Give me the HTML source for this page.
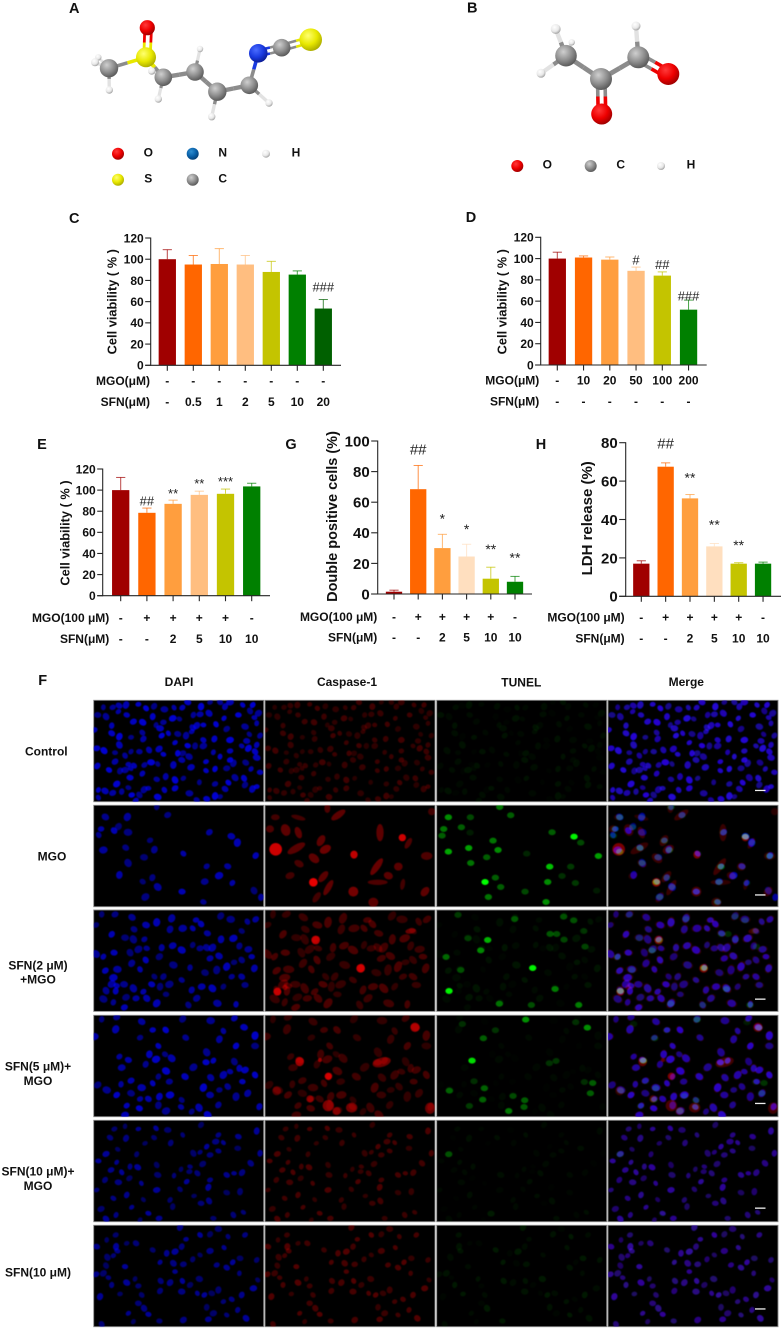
<!DOCTYPE html>
<html lang="en">
<head>
<meta charset="utf-8">
<title>Sulforaphane and MGO figure</title>
<style>
html,body{margin:0;padding:0;background:#fff;}
svg{display:block;}
text{font-family:"Liberation Sans","Noto Sans CJK SC",sans-serif;font-weight:bold;fill:#111;}
.letter{font-size:14.5px;text-anchor:middle;}
.atom-label{font-size:12px;text-anchor:middle;}
.head{font-size:12px;text-anchor:middle;}
.row-label{font-size:12px;text-anchor:middle;}
.ytitle{font-size:12.8px;text-anchor:middle;}
</style>
</head>
<body>
<svg id="fig" xmlns="http://www.w3.org/2000/svg" width="781" height="1328" viewBox="0 0 781 1328">
<defs>
<radialGradient id="g-gray" cx=".38" cy=".32" r=".72"><stop offset="0" stop-color="#cfcfcf"/><stop offset=".55" stop-color="#8f8f8f"/><stop offset="1" stop-color="#555"/></radialGradient>
<radialGradient id="g-red" cx=".38" cy=".32" r=".72"><stop offset="0" stop-color="#ff3a3a"/><stop offset=".55" stop-color="#ee0000"/><stop offset="1" stop-color="#980000"/></radialGradient>
<radialGradient id="g-yellow" cx=".38" cy=".32" r=".72"><stop offset="0" stop-color="#ffff70"/><stop offset=".55" stop-color="#e8e800"/><stop offset="1" stop-color="#a8a800"/></radialGradient>
<radialGradient id="g-blue" cx=".38" cy=".32" r=".72"><stop offset="0" stop-color="#4a6cff"/><stop offset=".55" stop-color="#1a3ae0"/><stop offset="1" stop-color="#0a1a90"/></radialGradient>
<radialGradient id="g-nblue" cx=".38" cy=".32" r=".72"><stop offset="0" stop-color="#2f8ed0"/><stop offset=".55" stop-color="#0a62aa"/><stop offset="1" stop-color="#053c70"/></radialGradient>
<radialGradient id="g-white" cx=".38" cy=".32" r=".72"><stop offset="0" stop-color="#fff"/><stop offset=".6" stop-color="#e8e8e8"/><stop offset="1" stop-color="#9a9a9a"/></radialGradient>
<clipPath id="cell-clip"><rect x="0" y="0" width="170" height="101.4"/></clipPath>
<filter id="soft" x="-5%" y="-5%" width="110%" height="110%"><feGaussianBlur stdDeviation="0.6"/></filter>
</defs>

<g id="mol-a"></g>
<g id="mol-b"></g>
<g id="charts"></g>
<g id="micro"></g>

<text class="letter" x="74.3" y="13">A</text>
<text class="letter" x="472.3" y="12.5">B</text>
<text class="letter" x="74.3" y="223">C</text>
<text class="letter" x="471" y="222">D</text>
<text class="letter" x="42" y="449">E</text>
<text class="letter" x="291" y="449">G</text>
<text class="letter" x="541" y="449">H</text>
<text class="letter" x="42.7" y="685">F</text>

<text class="atom-label" x="148.3" y="156.3">O</text>
<text class="atom-label" x="222.7" y="156.3">N</text>
<text class="atom-label" x="296" y="156.3">H</text>
<text class="atom-label" x="148.3" y="182.6">S</text>
<text class="atom-label" x="222.7" y="182.6">C</text>
<text class="atom-label" x="547.3" y="168.3">O</text>
<text class="atom-label" x="620.7" y="168.3">C</text>
<text class="atom-label" x="691" y="168.3">H</text>

<text class="ytitle" transform="translate(116.3 301.7) rotate(-90)">Cell viability ( % )</text>
<text class="ytitle" transform="translate(506.3 301.7) rotate(-90)">Cell viability ( % )</text>
<text class="ytitle" transform="translate(69.6 533) rotate(-90)">Cell viability ( % )</text>
<text class="ytitle" style="font-size:14.5px" transform="translate(337 516.5) rotate(-90)">Double positive cells (%)</text>
<text class="ytitle" style="font-size:15px" transform="translate(592 518.3) rotate(-90)">LDH release (%)</text>

<text class="head" x="179" y="686">DAPI</text>
<text class="head" x="347" y="686">Caspase-1</text>
<text class="head" x="521.3" y="686.5">TUNEL</text>
<text class="head" x="686.3" y="686">Merge</text>

<text class="row-label" x="46.3" y="755.3">Control</text>
<text class="row-label" x="52" y="860.6">MGO</text>
<text class="row-label" x="38" y="969.3">SFN(2 μM)</text>
<text class="row-label" x="38" y="983.6">+MGO</text>
<text class="row-label" x="38" y="1070.6">SFN(5 μM)+</text>
<text class="row-label" x="38" y="1085">MGO</text>
<text class="row-label" x="38" y="1175.6">SFN(10 μM)+</text>
<text class="row-label" x="38" y="1190">MGO</text>
<text class="row-label" x="38" y="1276.6">SFN(10 μM)</text>
</svg>

<script>
/* ---------- chart data ---------- */
var viabilityTicks = [0,20,40,60,80,100,120];
var doubleTicks = [0,20,40,60,80,100];
var ldhTicks = [0,20,40,60,80];

var cValues = [100,95,95.5,95,88,85.5,53.5];
var cErrTops = [109,103.5,110,103.5,98,89,62];
var cMgo = ['-','-','-','-','-','-','-'];
var cSfn = ['-','0.5','1','2','5','10','20'];
var cSig = ['','','','','','','###'];
var cSigLevels = [0,0,0,0,0,0,74];

var dValues = [100,101,99,88.5,84,52];
var dErrTops = [106,102.5,101.5,92,87.5,61];
var dMgo = ['-','10','20','50','100','200'];
var dSfn = ['-','-','-','-','-','-'];
var dSig = ['','','','#','##','###'];
var dSigLevels = [0,0,0,98.7,94.6,64.8];

var eValues = [100,78.5,87,95.5,96.5,103.5];
var eErrTops = [112,83,90.5,99,101,106.5];
var eMgo = ['-','+','+','+','+','-'];
var eSfn = ['-','-','2','5','10','10'];
var eSig = ['','##','**','**','***',''];
var eSigLevels = [0,89.7,99.8,109.3,111,0];

var gValues = [1.5,68.5,30,24.5,10,8];
var gErrTops = [2.5,84,39,32.5,17.5,11.5];
var gMgo = ['-','+','+','+','+','-'];
var gSfn = ['-','-','2','5','10','10'];
var gSig = ['','##','*','*','**','**'];
var gSigLevels = [0,94.6,51.4,44.4,31.4,25.9];

var hValues = [17,67.5,51,26,17,17];
var hErrTops = [18.5,69.5,53,27.5,17.5,17.8];
var hMgo = ['-','+','+','+','+','-'];
var hSfn = ['-','-','2','5','10','10'];
var hSig = ['','##','**','**','**',''];
var hSigLevels = [0,79.7,63.5,39,28.3,0];

var paletteWarm = ['#a00000','#ff6600','#ff9e3e','#ffbe80','#c4c400','#008000','#006000'];
var palettePale = ['#a00000','#ff6600','#ff9e3e','#ffdfbf','#c4c400','#008000'];

var SVGNS = 'http://www.w3.org/2000/svg';
function mk(tag, parent, attrs){
  var el = document.createElementNS(SVGNS, tag);
  for (var k in attrs) el.setAttribute(k, attrs[k]);
  parent.appendChild(el);
  return el;
}

function drawChart(id, c){
  var root = document.getElementById('charts');
  var g = mk('g', root, {});
  
  
  function yScale(v){ return c.y0 - v * (c.y0 - c.yTop) / c.max; }
  function xScale(i){ return c.x0 + i * c.step; }
  var ink = '#262626';

  c.values.forEach(function(v, i){
    var x = xScale(i), col = c.colors[i];
    var stem = mk('line', g, {x1:x, x2:x, y1:yScale(v), y2:yScale(c.errTops[i]), stroke:col, 'stroke-width':1, 'stroke-opacity':.72});
    
    
    var cap = mk('line', g, {x1:x-4.6, x2:x+4.6, y1:yScale(c.errTops[i]), y2:yScale(c.errTops[i]), stroke:col, 'stroke-width':1, 'stroke-opacity':.72});
    
    
    var bar = mk('rect', g, {x:x-c.barW/2, y:yScale(v), width:c.barW, height:c.y0-yScale(v), fill:col});
    
    

    var tick = mk('line', g, {x1:x, x2:x, y1:c.y0, y2:c.y0+5.5, stroke:ink, 'stroke-width':1.1});
    
    

    var m = mk('text', g, {x:x, y:c.labY1+4.3, 'text-anchor':'middle', 'font-size':12});
    m.textContent = c.mgo[i];
    
    
    var s = mk('text', g, {x:x, y:c.labY2+4.3, 'text-anchor':'middle', 'font-size':12});
    s.textContent = c.sfn[i];
    
    

    if (c.sig[i]) {
      var isHash = c.sig[i].charAt(0) === '#';
      var fs = isHash ? c.hashFont : c.starFont;
      var t = mk('text', g, {x:x, y:yScale(c.sigLevels[i]) + fs*(isHash ? .35 : .58), 'text-anchor':'middle', 'font-size':fs, style:'font-weight:normal;fill:#222'});
      t.textContent = c.sig[i];
      
      
    }
  });

  var yAxis = mk('line', g, {x1:c.axisX, x2:c.axisX, y1:c.yTop-.5, y2:c.y0+.5, stroke:ink, 'stroke-width':1.1});
  
  
  var xAxis = mk('line', g, {x1:c.axisX-c.tickLen, x2:c.axisEnd, y1:c.y0, y2:c.y0, stroke:ink, 'stroke-width':1.1});
  
  

  c.ticks.forEach(function(v){
    var yt = yScale(v);
    var tk = mk('line', g, {x1:c.axisX-c.tickLen, x2:c.axisX, y1:yt, y2:yt, stroke:ink, 'stroke-width':1.1});
    
    
    var lb = mk('text', g, {x:c.axisX-c.tickLen-1.5, y:yt+c.tickFont*.36, 'text-anchor':'end', 'font-size':c.tickFont});
    lb.textContent = String(v);
    
    
  });

  var ml = mk('text', g, {x:c.labRight, y:c.labY1+4.3, 'text-anchor':'end', 'font-size':12});
  ml.textContent = c.mgoTitle;
  
  
  var sl = mk('text', g, {x:c.labRight, y:c.labY2+4.3, 'text-anchor':'end', 'font-size':12});
  sl.textContent = 'SFN(μM)';
  
  
}

drawChart('c', {values:cValues, errTops:cErrTops, mgo:cMgo, sfn:cSfn, sig:cSig, sigLevels:cSigLevels, colors:paletteWarm, ticks:viabilityTicks, max:120,
  y0:365.3, yTop:238, axisX:150.7, axisEnd:341, x0:167.3, step:26, barW:17.3, tickFont:12, tickLen:5.5, labRight:150, labY1:380.7, labY2:401.7, mgoTitle:'MGO(μM)', hashFont:13, starFont:13});
drawChart('d', {values:dValues, errTops:dErrTops, mgo:dMgo, sfn:dSfn, sig:dSig, sigLevels:dSigLevels, colors:paletteWarm, ticks:viabilityTicks, max:120,
  y0:365, yTop:237.3, axisX:540.7, axisEnd:706.7, x0:557.3, step:26.25, barW:17.3, tickFont:12, tickLen:5.5, labRight:539.3, labY1:380, labY2:401, mgoTitle:'MGO(μM)', hashFont:13, starFont:13});
drawChart('e', {values:eValues, errTops:eErrTops, mgo:eMgo, sfn:eSfn, sig:eSig, sigLevels:eSigLevels, colors:paletteWarm, ticks:viabilityTicks, max:120,
  y0:595.7, yTop:469, axisX:102.7, axisEnd:270, x0:120.7, step:26.2, barW:17.3, tickFont:12, tickLen:5.5, labRight:109.3, labY1:617.7, labY2:638.7, mgoTitle:'MGO(100 μM)', hashFont:13, starFont:13});
drawChart('g', {values:gValues, errTops:gErrTops, mgo:gMgo, sfn:gSfn, sig:gSig, sigLevels:gSigLevels, colors:palettePale, ticks:doubleTicks, max:100,
  y0:594, yTop:441, axisX:377.7, axisEnd:532, x0:394, step:24.2, barW:16.3, tickFont:15, tickLen:6.5, labRight:377.3, labY1:616.7, labY2:637.3, mgoTitle:'MGO(100 μM)', hashFont:15, starFont:14});
drawChart('h', {values:hValues, errTops:hErrTops, mgo:hMgo, sfn:hSfn, sig:hSig, sigLevels:hSigLevels, colors:palettePale, ticks:ldhTicks, max:80,
  y0:596.3, yTop:442.7, axisX:625.7, axisEnd:781, x0:641.3, step:24.35, barW:16.3, tickFont:15, tickLen:6.5, labRight:624.7, labY1:617.3, labY2:638.3, mgoTitle:'MGO(100 μM)', hashFont:15, starFont:14});

/* ---------- molecules ---------- */
function atom(parent, x, y, r, grad, name){
  var el = mk('circle', parent, {cx:x, cy:y, r:r, fill:'url(#' + grad + ')'});
  
  
}
function bond(parent, x1, y1, x2, y2, c1, c2, w){
  var mx = (x1+x2)/2, my = (y1+y2)/2;
  var a = mk('line', parent, {x1:x1, y1:y1, x2:mx, y2:my, stroke:c1, 'stroke-width':w});
  
  
  var b = mk('line', parent, {x1:mx, y1:my, x2:x2, y2:y2, stroke:c2, 'stroke-width':w});
  
  
}
(function(){
  var A = document.getElementById('mol-a');
  var GR='#8c8c8c', WH='#e2e2e2', YE='#e8e800', RE='#ee0000', BL='#1a3ae0';
  bond(A,109,68.3,95,62.3,GR,WH,3.4); bond(A,109,68.3,98.3,57.3,GR,WH,2.8); bond(A,109,68.3,109.3,90,GR,WH,3.4);
  bond(A,109,68.3,146,57.3,GR,YE,3.6);
  bond(A,143.8,57.3,144.8,27.7,YE,RE,2.8); bond(A,150.2,57.3,151.5,27.7,YE,RE,2.8);
  bond(A,146,57.3,163.3,77.3,YE,GR,4);
  bond(A,163.3,77.3,151.7,71,GR,WH,3); bond(A,163.3,77.3,158.3,99,GR,WH,3.2);
  bond(A,163.3,77.3,195,72,GR,GR,4.4);
  bond(A,195,72,200,49,GR,WH,3.2);
  bond(A,195,72,217.3,91.7,GR,GR,4.4);
  bond(A,217.3,91.7,211.7,116.7,GR,WH,3.4);
  bond(A,217.3,91.7,249.3,85.3,GR,GR,4.4);
  bond(A,249.3,85.3,269,103,GR,WH,3.4);
  bond(A,249.3,85.3,258.3,53.3,GR,BL,3.6);
  bond(A,258.3,50.3,281.7,44.7,BL,GR,2.6); bond(A,258.3,56.3,281.7,50.7,BL,GR,2.6);
  bond(A,281.7,44.7,310.7,36.7,GR,YE,2.6); bond(A,281.7,50.7,310.7,42.7,GR,YE,2.6);
  atom(A,98.3,57.3,3.2,'g-white','hydrogen-atom'); atom(A,95,62.3,4,'g-white','hydrogen-atom'); atom(A,109.3,90,3.7,'g-white','hydrogen-atom');
  atom(A,109,68.3,9.2,'g-gray','carbon-atom');
  atom(A,147.3,27.7,7.6,'g-red','oxygen-atom');
  atom(A,158.3,99,3.7,'g-white','hydrogen-atom');
  atom(A,163.3,77.3,8.8,'g-gray','carbon-atom');
  atom(A,146,57.3,10,'g-yellow','sulfur-atom');
  atom(A,151.7,71,3.7,'g-white','hydrogen-atom');
  atom(A,200,49,3.2,'g-white','hydrogen-atom');
  atom(A,195,72,8.8,'g-gray','carbon-atom');
  atom(A,211.7,116.7,3.7,'g-white','hydrogen-atom');
  atom(A,217.3,91.7,9.2,'g-gray','carbon-atom');
  atom(A,269,103,3.7,'g-white','hydrogen-atom');
  atom(A,249.3,85.3,8.8,'g-gray','carbon-atom');
  atom(A,281.7,47.7,8.8,'g-gray','carbon-atom');
  atom(A,258.3,53.3,9.3,'g-blue','nitrogen-atom');
  atom(A,310.7,39.7,11.3,'g-yellow','sulfur-atom');
  atom(A,118,153.7,6,'g-red','legend-a-oxygen-swatch');
  atom(A,192.7,153.7,6,'g-nblue','legend-a-nitrogen-swatch');
  atom(A,266,153.7,4,'g-white','legend-a-hydrogen-swatch');
  atom(A,118,179.7,6,'g-yellow','legend-a-sulfur-swatch');
  atom(A,192.7,179.7,6,'g-gray','legend-a-carbon-swatch');

  var B = document.getElementById('mol-b');
  bond(B,566,55.7,555.7,29,GR,WH,4.4); bond(B,566,55.7,571.7,42.3,GR,WH,3); bond(B,566,55.7,541,73.3,GR,WH,4.2);
  bond(B,566,55.7,601,79,GR,GR,4.8); bond(B,601,79,638.3,57.3,GR,GR,4.8);
  bond(B,597.5,79,598.2,114,GR,RE,3.6); bond(B,605,79,605.7,114,GR,RE,3.6);
  bond(B,640.2,53.8,670.2,70.8,GR,RE,3.6); bond(B,636.4,60.4,666.4,77.4,GR,RE,3.6);
  bond(B,638.3,57.3,636,26,GR,WH,4.4);
  atom(B,571.7,42.3,3.2,'g-white','hydrogen-atom');
  atom(B,555.7,29,5,'g-white','hydrogen-atom');
  atom(B,541,73.3,4.5,'g-white','hydrogen-atom');
  atom(B,566,55.7,10.8,'g-gray','carbon-atom');
  atom(B,636,26,4.5,'g-white','hydrogen-atom');
  atom(B,638.3,57.3,11,'g-gray','carbon-atom');
  atom(B,601,79,11,'g-gray','carbon-atom');
  atom(B,601.7,114,10.5,'g-red','oxygen-atom');
  atom(B,668.3,74,11,'g-red','oxygen-atom');
  atom(B,517.3,166,6,'g-red','legend-b-oxygen-swatch');
  atom(B,590.7,166,6,'g-gray','legend-b-carbon-swatch');
  atom(B,661,166,4,'g-white','legend-b-hydrogen-swatch');
})();

/* ---------- fluorescence micrographs (cell positions in 3x panel pixels) ---------- */
var colX = [93.7,265,436.7,608];
var rowY = [700.3,805.3,910,1015.3,1120.3,1225.3];
var scaleBarY = [89.5,89,88.5,87.5,87.2,83];

var rows = [
 {ox:281,oy:106,blue:.72,rx:10.5,ry:8.5,redBase:.22,redRx:9,redRy:8,greenBase:.05,
  cells:[[310,127],[338,127],[357,122],[378,120],[415,118],[438,130],[462,124],[493,133],[522,128],[547,128],[563,112],[603,125],[630,112],[660,112],[675,125],[690,112],[728,120],[758,120],[293,150],[318,155],[355,140],[380,150],[458,155],[518,160],[538,162],[580,150],[600,148],[627,145],[672,160],[715,150],[750,138],[775,145],[763,158],[335,182],[400,170],[428,172],[468,180],[490,172],[578,188],[590,182],[610,180],[648,178],[680,192],[735,185],[770,175],[283,195],[335,205],[358,215],[393,217],[427,203],[430,222],[480,190],[505,205],[485,212],[533,207],[558,212],[575,200],[610,225],[643,222],[690,225],[748,208],[780,212],[740,228],[358,240],[525,233],[563,242],[585,243],[610,243],[725,243],[770,240],[290,250],[312,257],[393,260],[418,260],[447,255],[477,252],[490,268],[533,265],[548,265],[567,275],[640,262],[690,258],[765,260],[745,250],[345,263],[375,272],[345,290],[770,278],[660,275],[690,285],[737,293],[700,295],[385,298],[402,302],[292,303],[453,292],[473,297],[433,300],[545,285],[520,300],[618,290],[327,315],[360,318],[375,315],[392,310],[427,326],[390,338],[525,345],[550,340],[470,343],[497,335],[573,307],[618,317],[645,312],[680,310],[705,338],[753,312],[780,322],[732,340],[350,357],[385,368],[365,380],[338,384],[315,378],[295,375],[395,390],[418,390],[432,374],[445,370],[493,375],[525,370],[473,396],[598,352],[645,357],[675,372],[757,372],[770,365],[685,353],[735,360],[568,385],[295,398],[407,407],[620,402],[645,393],[660,395],[590,405]],
  redExtra:[], greenExtra:[]},
 {ox:0,oy:0,blue:.62,rx:11.5,ry:9.5,redBase:0,redRx:0,redRy:0,greenBase:0,
  cells:[[189,5],[222,29],[35,35],[101,35],[22,71],[61,76],[74,64],[103,81],[15,89],[347,81],[413,93],[431,112],[169,105],[96,127],[182,133],[29,134],[269,145],[486,151],[151,156],[103,173],[339,183],[402,183],[77,209],[376,211],[147,229],[176,217],[333,229],[192,245],[416,233],[265,259],[481,256],[155,275],[329,290],[502,276]],
  redExtra:[[220,29,.36,25,10,-35],[100,37,.26,22,7,15],[31,36,.26,13,9,0],[62,74,.36,14,18,-20],[15,71,.3,12,11,0],[100,82,.36,18,10,70],[32,132,.8,19,19,0],[94,129,.34,30,11,-30],[168,106,.36,18,11,-60],[181,132,.42,18,12,-30],[147,159,.36,18,12,40],[102,175,.28,15,10,30],[345,82,.36,26,11,90],[412,97,.8,11,11,0],[430,114,.3,18,8,-60],[267,148,.75,11,12,0],[485,152,.3,17,12,0],[335,184,.4,30,10,-55],[400,184,.35,13,12,0],[75,211,.26,14,10,-20],[370,211,.35,14,11,20],[338,231,.3,30,8,0],[175,214,.35,20,10,-50],[145,231,.9,13,13,0],[190,247,.36,26,9,-60],[413,237,.26,17,7,-80],[265,259,.45,15,15,0],[155,276,.26,18,9,-55],[480,259,.36,16,11,-50],[325,291,.35,15,14,0],[187,9,.3,14,9,-90],[500,19,.26,11,11,0]],
  greenExtra:[[35,36,.55],[101,36,.28],[189,5,.45],[222,30,.36],[21,71,.45],[74,66,.36],[16,91,.36],[100,82,.1],[169,106,.45],[96,128,.62],[184,134,.55],[150,156,.36],[102,173,.45],[35,139,.65],[346,81,.36],[412,94,.95],[432,112,.28],[270,145,.14],[485,152,.62],[339,184,.75],[402,184,.22],[176,217,.36],[145,230,1],[376,212,.18],[333,230,.55],[192,245,.36],[416,233,.22],[265,259,.28],[155,275,.45],[480,256,.1],[328,290,.55]]},
 {ox:281,oy:15,blue:.62,rx:11.5,ry:9.5,redBase:.26,redRx:15,redRy:10,greenBase:.06,
  cells:[[305,28],[345,28],[396,37],[515,40],[588,45],[603,57],[662,33],[692,43],[742,50],[767,43],[438,60],[470,52],[288,60],[402,73],[510,73],[548,70],[578,70],[335,88],[375,98],[400,103],[433,103],[622,85],[663,103],[700,100],[725,78],[718,123],[745,133],[288,147],[310,155],[342,143],[390,143],[415,133],[440,130],[485,128],[518,122],[545,135],[578,120],[600,130],[620,128],[637,128],[755,155],[437,165],[478,155],[520,180],[570,188],[630,160],[657,153],[680,185],[702,172],[725,165],[395,175],[352,193],[420,193],[316,197],[615,203],[650,195],[695,215],[725,215],[763,190],[340,218],[463,215],[490,215],[372,238],[400,250],[430,260],[455,238],[480,245],[508,238],[545,225],[575,255],[605,245],[637,250],[670,245],[735,240],[318,257],[335,237],[350,242],[347,258],[378,277],[310,282],[340,292],[408,280],[440,280],[470,295],[498,268],[565,300],[590,280],[652,295],[708,298],[373,307]],
  redExtra:[[152,90,.72,13,13,0],[287,175,.78,13,13,0],[37,245,.72,12,12,0],[437,63,.4,16,8,-10],[60,232,.4,8,8,0]],
  greenExtra:[[153,90,.7],[288,174,.95],[37,243,.95],[132,121,.5],[28,141,.36],[72,180,.28],[355,237,.45],[188,281,.4],[426,285,.45],[284,285,.3],[234,27,.3],[381,20,.28],[411,31,.3],[382,89,.26],[340,72,.3],[360,72,.3],[94,85,.18],[64,15,.18],[445,110,.26],[441,63,.18]]},
 {ox:281,oy:331,blue:.68,rx:11.5,ry:9.5,redBase:.24,redRx:14,redRy:10,greenBase:.03,
  cells:[[305,343],[350,337],[425,350],[347,373],[458,375],[497,375],[548,342],[632,347],[670,378],[703,340],[732,367],[765,392],[420,398],[557,398],[658,403],[283,395],[475,423],[708,423],[765,423],[620,442],[358,455],[385,465],[448,448],[468,463],[495,448],[437,478],[365,488],[515,460],[640,467],[618,472],[703,470],[580,487],[690,500],[718,490],[735,495],[498,498],[475,515],[508,530],[632,518],[670,510],[727,530],[765,510],[293,540],[320,555],[363,538],[393,527],[555,515],[610,548],[658,555],[683,545],[743,565],[425,548],[458,535],[350,570],[393,565],[708,575],[420,582],[445,582],[478,575],[510,570],[545,585],[655,600],[630,570],[597,608],[380,602],[418,610],[475,601],[498,618],[543,606],[778,605],[375,630],[623,630],[575,620]],
  redExtra:[[450,36,.6,14,14,0],[104,139,.62,13,14,0],[190,183,.8,11,11,0],[165,134,.6,6,6,0],[350,141,.42,28,14,-15],[190,271,.48,17,17,0],[260,277,.44,17,15,0],[135,251,.48,11,11,0],[35,227,.32,13,13,0],[495,279,.4,15,17,0],[215,287,.4,12,12,0]],
  greenExtra:[[267,13,.55],[452,37,.55],[140,69,.36],[77,26,.18],[176,45,.18],[417,21,.18],[106,136,.85],[338,144,.18],[358,137,.18],[38,226,.36],[112,198,.18],[143,219,.36],[468,203,.36],[443,200,.18],[461,234,.36],[138,253,.36],[229,242,.28],[264,255,.36],[262,275,.32],[216,287,.45],[98,272,.22]]},
 {ox:281,oy:646,blue:.52,rx:10,ry:7.8,redBase:.26,redRx:9.5,redRy:7.5,greenBase:.04,
  cells:[[375,664],[343,672],[330,698],[378,700],[415,672],[468,670],[603,660],[503,675],[548,690],[655,690],[715,695],[770,678],[435,715],[462,698],[512,714],[647,710],[670,713],[620,725],[713,730],[580,745],[600,742],[655,738],[780,745],[318,747],[353,733],[410,748],[630,750],[752,775],[350,772],[295,768],[470,780],[608,777],[570,785],[390,785],[333,795],[413,787],[543,793],[568,800],[592,805],[726,803],[702,805],[365,802],[388,820],[473,810],[522,812],[630,825],[680,810],[625,847],[582,873],[540,853],[315,825],[355,832],[424,835],[560,830],[680,863],[720,860],[290,855],[340,880],[380,870],[470,855],[430,884],[510,885],[603,895],[627,888],[395,907],[445,925],[518,905],[303,912],[730,922],[348,930],[477,940],[318,942],[420,945],[640,940],[700,930]],
  redExtra:[], greenExtra:[[36,102,.28],[163,280,.1]]},
 {ox:281,oy:961,blue:.52,rx:10,ry:8.2,redBase:.28,redRx:9.5,redRy:8,greenBase:.07,
  cells:[[320,1005],[347,990],[408,1015],[540,967],[558,1003],[600,990],[630,988],[655,972],[684,995],[735,990],[290,1025],[348,1025],[380,1015],[458,1035],[545,1025],[630,1038],[672,1028],[698,1072],[720,1060],[322,1057],[340,1052],[352,1038],[500,1045],[525,1040],[600,1050],[578,1063],[550,1078],[520,1075],[480,1072],[375,1085],[318,1082],[310,1105],[325,1118],[335,1140],[288,1108],[380,1133],[405,1122],[415,1143],[482,1128],[510,1133],[525,1100],[547,1128],[570,1140],[598,1122],[718,1105],[650,1080],[680,1088],[300,1175],[360,1167],[425,1170],[480,1158],[545,1160],[592,1165],[613,1170],[635,1165],[655,1155],[670,1190],[695,1183],[725,1170],[760,1150],[773,1125],[770,1065],[415,1195],[432,1210],[385,1225],[445,1228],[620,1207],[640,1225],[680,1230],[713,1215],[625,1243],[738,1240],[400,1250],[478,1248],[305,1258],[550,1245]],
  redExtra:[], greenExtra:[]}
];

function layer(parent, blend, name, opacity){
  var g = mk('g', parent, {filter:'url(#soft)'});
  if (blend) g.setAttribute('style', 'mix-blend-mode:screen;opacity:' + opacity);
  
  
  return g;
}
function cell(parent, x, y, rx, ry, ang, fill, op, name){
  var el = mk('ellipse', parent, {cx:x/3, cy:y/3, rx:rx/3, ry:ry/3, fill:fill, 'fill-opacity':op, transform:'rotate(' + ang + ' ' + (x/3) + ' ' + (y/3) + ')'});
  
  
}
function variation(i){ return .72 + ((i * 7) % 6) * .08; }
function angleOf(i){ return -80 + ((i * 37) % 11) * 14; }
function sizeOf(i){ return .86 + ((i * 5) % 4) * .09; }

function drawBlue(g, row, sc){
  row.cells.forEach(function(p, i){
    cell(g, p[0]-row.ox, p[1]-row.oy, row.rx*sizeOf(i), row.ry*sizeOf(i), angleOf(i), '#0000ff', Math.min(1, row.blue*variation(i))*sc, 'dapi-nucleus');
  });
}
function drawRed(g, row){
  if (row.redBase) row.cells.forEach(function(p, i){
    cell(g, p[0]-row.ox, p[1]-row.oy, row.redRx*sizeOf(i), row.redRy*sizeOf(i), angleOf(i), '#ff0000', row.redBase*variation(i), 'caspase-cell');
  });
  row.redExtra.forEach(function(r){
    cell(g, r[0], r[1], r[3], r[4], r[5], '#ff0000', r[2], 'caspase-cell-bright');
  });
}
function drawGreen(g, row){
  if (row.greenBase) row.cells.forEach(function(p, i){
    cell(g, p[0]-row.ox, p[1]-row.oy, row.rx*sizeOf(i), row.ry*sizeOf(i), angleOf(i), '#00ff00', row.greenBase*(((i*13)%5)/3), 'tunel-nucleus');
  });
  row.greenExtra.forEach(function(r){
    cell(g, r[0], r[1], 11, 9, 0, '#00ff00', r[2], 'tunel-nucleus-bright');
  });
}

var micro = document.getElementById('micro');
rows.forEach(function(row, ri){
  colX.forEach(function(cx, ci){
    var p = mk('g', micro, {transform:'translate(' + cx + ' ' + rowY[ri] + ')'});
    
    
    var bg = mk('rect', p, {x:0, y:0, width:170, height:101.4, fill:'#000', stroke:'#8a8a8a', 'stroke-width':.9});
    
    
    var clip = mk('g', p, {'clip-path':'url(#cell-clip)', style:'isolation:isolate'});
    
    
    if (ci === 0) drawBlue(layer(clip, false, 'dapi-layer', 1), row, 1);
    if (ci === 1) drawRed(layer(clip, false, 'caspase-layer', 1), row);
    if (ci === 2) drawGreen(layer(clip, false, 'tunel-layer', 1), row);
    if (ci === 3) {
      drawRed(layer(clip, true, 'merge-red-layer', .6), row);
      drawBlue(layer(clip, true, 'merge-blue-layer', 1), row, 1);
      drawGreen(layer(clip, true, 'merge-green-layer', .55), row);
      var sb = mk('rect', p, {x:147, y:scaleBarY[ri], width:10.5, height:1.3, fill:'#eee'});
      
      
    }
  });
});
</script>
</body>
</html>
